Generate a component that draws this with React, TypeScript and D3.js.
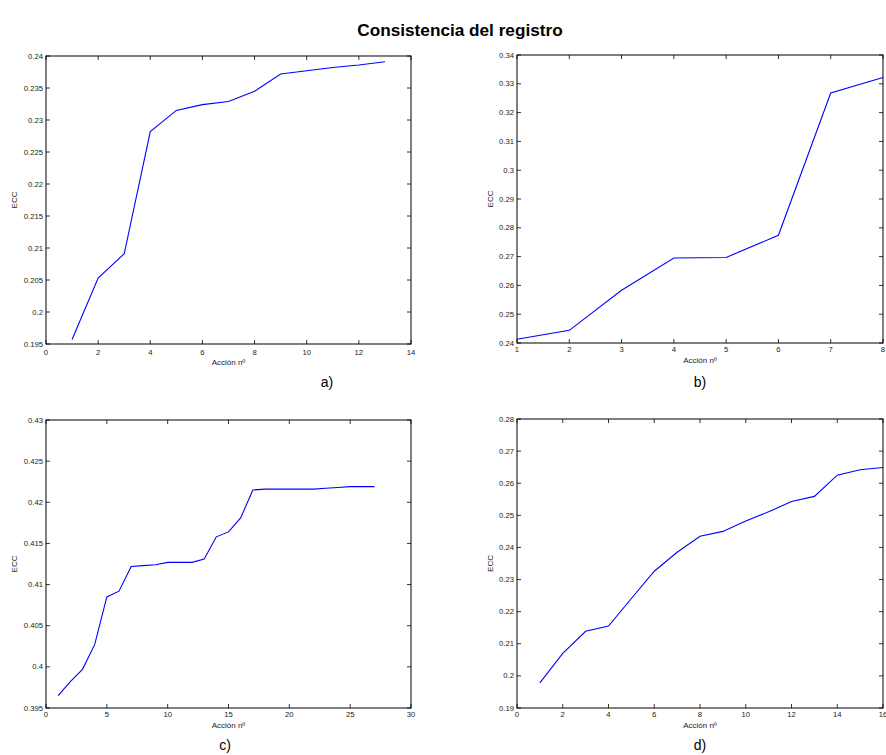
import React from "react";
import * as d3 from "d3";

const TITLE = "Consistencia del registro";
const X_LABEL = "Acción nº";
const Y_LABEL = "ECC";

// Panel a
const aX = [1, 2, 3, 4, 5, 6, 7, 8, 9, 10, 11, 12, 13];
const aY = [0.1957, 0.2053, 0.2091, 0.2282, 0.2315, 0.2324, 0.2329, 0.2345, 0.2372, 0.2377, 0.2382, 0.2386, 0.2391];
const aXTicks = [0, 2, 4, 6, 8, 10, 12, 14];
const aYTicks = [0.195, 0.2, 0.205, 0.21, 0.215, 0.22, 0.225, 0.23, 0.235, 0.24];

// Panel b
const bX = [1, 2, 3, 4, 5, 6, 7, 8];
const bY = [0.2413, 0.2444, 0.2583, 0.2695, 0.2697, 0.2774, 0.3268, 0.3322];
const bXTicks = [1, 2, 3, 4, 5, 6, 7, 8];
const bYTicks = [0.24, 0.25, 0.26, 0.27, 0.28, 0.29, 0.3, 0.31, 0.32, 0.33, 0.34];

// Panel c
const cX = [1, 2, 3, 4, 5, 6, 7, 8, 9, 10, 11, 12, 13, 14, 15, 16, 17, 18, 19, 20, 21, 22, 23, 24, 25, 26, 27];
const cY = [0.3965, 0.3982, 0.3997, 0.4027, 0.4085, 0.4092, 0.4122, 0.4123, 0.4124, 0.4127, 0.4127, 0.4127, 0.4131, 0.4158, 0.4164, 0.4181, 0.4215, 0.4216, 0.4216, 0.4216, 0.4216, 0.4216, 0.4217, 0.4218, 0.4219, 0.4219, 0.4219];
const cXTicks = [0, 5, 10, 15, 20, 25, 30];
const cYTicks = [0.395, 0.4, 0.405, 0.41, 0.415, 0.42, 0.425, 0.43];

// Panel d
const dX = [1, 2, 3, 4, 5, 6, 7, 8, 9, 10, 11, 12, 13, 14, 15, 16];
const dY = [0.1978, 0.207, 0.2139, 0.2155, 0.2241, 0.2326, 0.2385, 0.2435, 0.245, 0.2482, 0.2511, 0.2543, 0.2559, 0.2625, 0.2642, 0.2649];
const dXTicks = [0, 2, 4, 6, 8, 10, 12, 14, 16];
const dYTicks = [0.19, 0.2, 0.21, 0.22, 0.23, 0.24, 0.25, 0.26, 0.27, 0.28];

const panelNames = ["a)", "b)", "c)", "d)"];

type Panel = {
  xs: number[]; ys: number[]; xTicks: number[]; yTicks: number[];
  box: [number, number, number, number]; // left, top, right, bottom
  xTickY: number; xLabelY: number; yLabelX: number; name: string; nameX: number; nameY: number;
};

const panels: Panel[] = [
  { xs: aX, ys: aY, xTicks: aXTicks, yTicks: aYTicks, box: [46, 56, 411, 344], xTickY: 352, xLabelY: 362, yLabelX: 14.5, name: panelNames[0], nameX: 327, nameY: 382 },
  { xs: bX, ys: bY, xTicks: bXTicks, yTicks: bYTicks, box: [517, 55, 883, 343], xTickY: 349, xLabelY: 360, yLabelX: 490, name: panelNames[1], nameX: 700, nameY: 382 },
  { xs: cX, ys: cY, xTicks: cXTicks, yTicks: cYTicks, box: [46, 420, 411, 708], xTickY: 714, xLabelY: 725, yLabelX: 14.5, name: panelNames[2], nameX: 225, nameY: 745 },
  { xs: dX, ys: dY, xTicks: dXTicks, yTicks: dYTicks, box: [517, 419, 883, 708], xTickY: 714, xLabelY: 725, yLabelX: 490, name: panelNames[3], nameX: 700, nameY: 745 },
];

const FONT = "'Liberation Sans', Arial, sans-serif";
const fmt = (v: number) => String(+v.toFixed(4));

function PanelView({ p }: { p: Panel }) {
  const [l, t, r, b] = p.box;
  const x = d3.scaleLinear().domain([p.xTicks[0], p.xTicks[p.xTicks.length - 1]]).range([l, r]);
  const y = d3.scaleLinear().domain([p.yTicks[0], p.yTicks[p.yTicks.length - 1]]).range([b, t]);
  const line = d3.line<number>().x((_, i) => x(p.xs[i])).y((v) => y(v));
  const tl = 4;
  return (
    <g>
      <rect x={l} y={t} width={r - l} height={b - t} fill="white" stroke="none" />
      {p.xTicks.map((v) => (
        <g key={"xt" + v}>
          <line x1={x(v)} x2={x(v)} y1={b} y2={b - tl} stroke="#000" strokeWidth={0.8} />
          <line x1={x(v)} x2={x(v)} y1={t} y2={t + tl} stroke="#000" strokeWidth={0.8} />
          <text x={x(v)} y={p.xTickY} textAnchor="middle" dominantBaseline="central" fontSize={7.7} fill="#222" fontFamily={FONT}>{fmt(v)}</text>
        </g>
      ))}
      {p.yTicks.map((v) => (
        <g key={"yt" + v}>
          <line x1={l} x2={l + tl} y1={y(v)} y2={y(v)} stroke="#000" strokeWidth={0.8} />
          <line x1={r} x2={r - tl} y1={y(v)} y2={y(v)} stroke="#000" strokeWidth={0.8} />
          <text x={l - 3} y={y(v)} textAnchor="end" dominantBaseline="central" fontSize={7.7} fill="#222" fontFamily={FONT}>{fmt(v)}</text>
        </g>
      ))}
      <path d={line(p.ys) || ""} fill="none" stroke="#0000ff" strokeWidth={1.1} />
      <rect x={l} y={t} width={r - l} height={b - t} fill="none" stroke="#000" strokeWidth={1} />
      <text x={(l + r) / 2} y={p.xLabelY} textAnchor="middle" dominantBaseline="central" fontSize={8} fill="#222" fontFamily={FONT}>{X_LABEL}</text>
      <text transform={`translate(${p.yLabelX},${(t + b) / 2}) rotate(-90)`} textAnchor="middle" dominantBaseline="central" fontSize={8} fill="#222" fontFamily={FONT}>{Y_LABEL}</text>
      <text x={p.nameX} y={p.nameY} textAnchor="middle" dominantBaseline="central" fontSize={14} fill="#000" fontFamily={FONT}>{p.name}</text>
    </g>
  );
}

export default function App() {
  return (
    <svg width={886} height={755} style={{ position: "absolute", left: 0, top: 0, background: "white" }}>
      <rect width={886} height={755} fill="white" />
      <text x={460} y={30} textAnchor="middle" dominantBaseline="central" fontSize={17.2} fontWeight="bold" fontFamily={FONT} fill="#000">{TITLE}</text>
      {panels.map((p, i) => <PanelView key={i} p={p} />)}
    </svg>
  );
}
